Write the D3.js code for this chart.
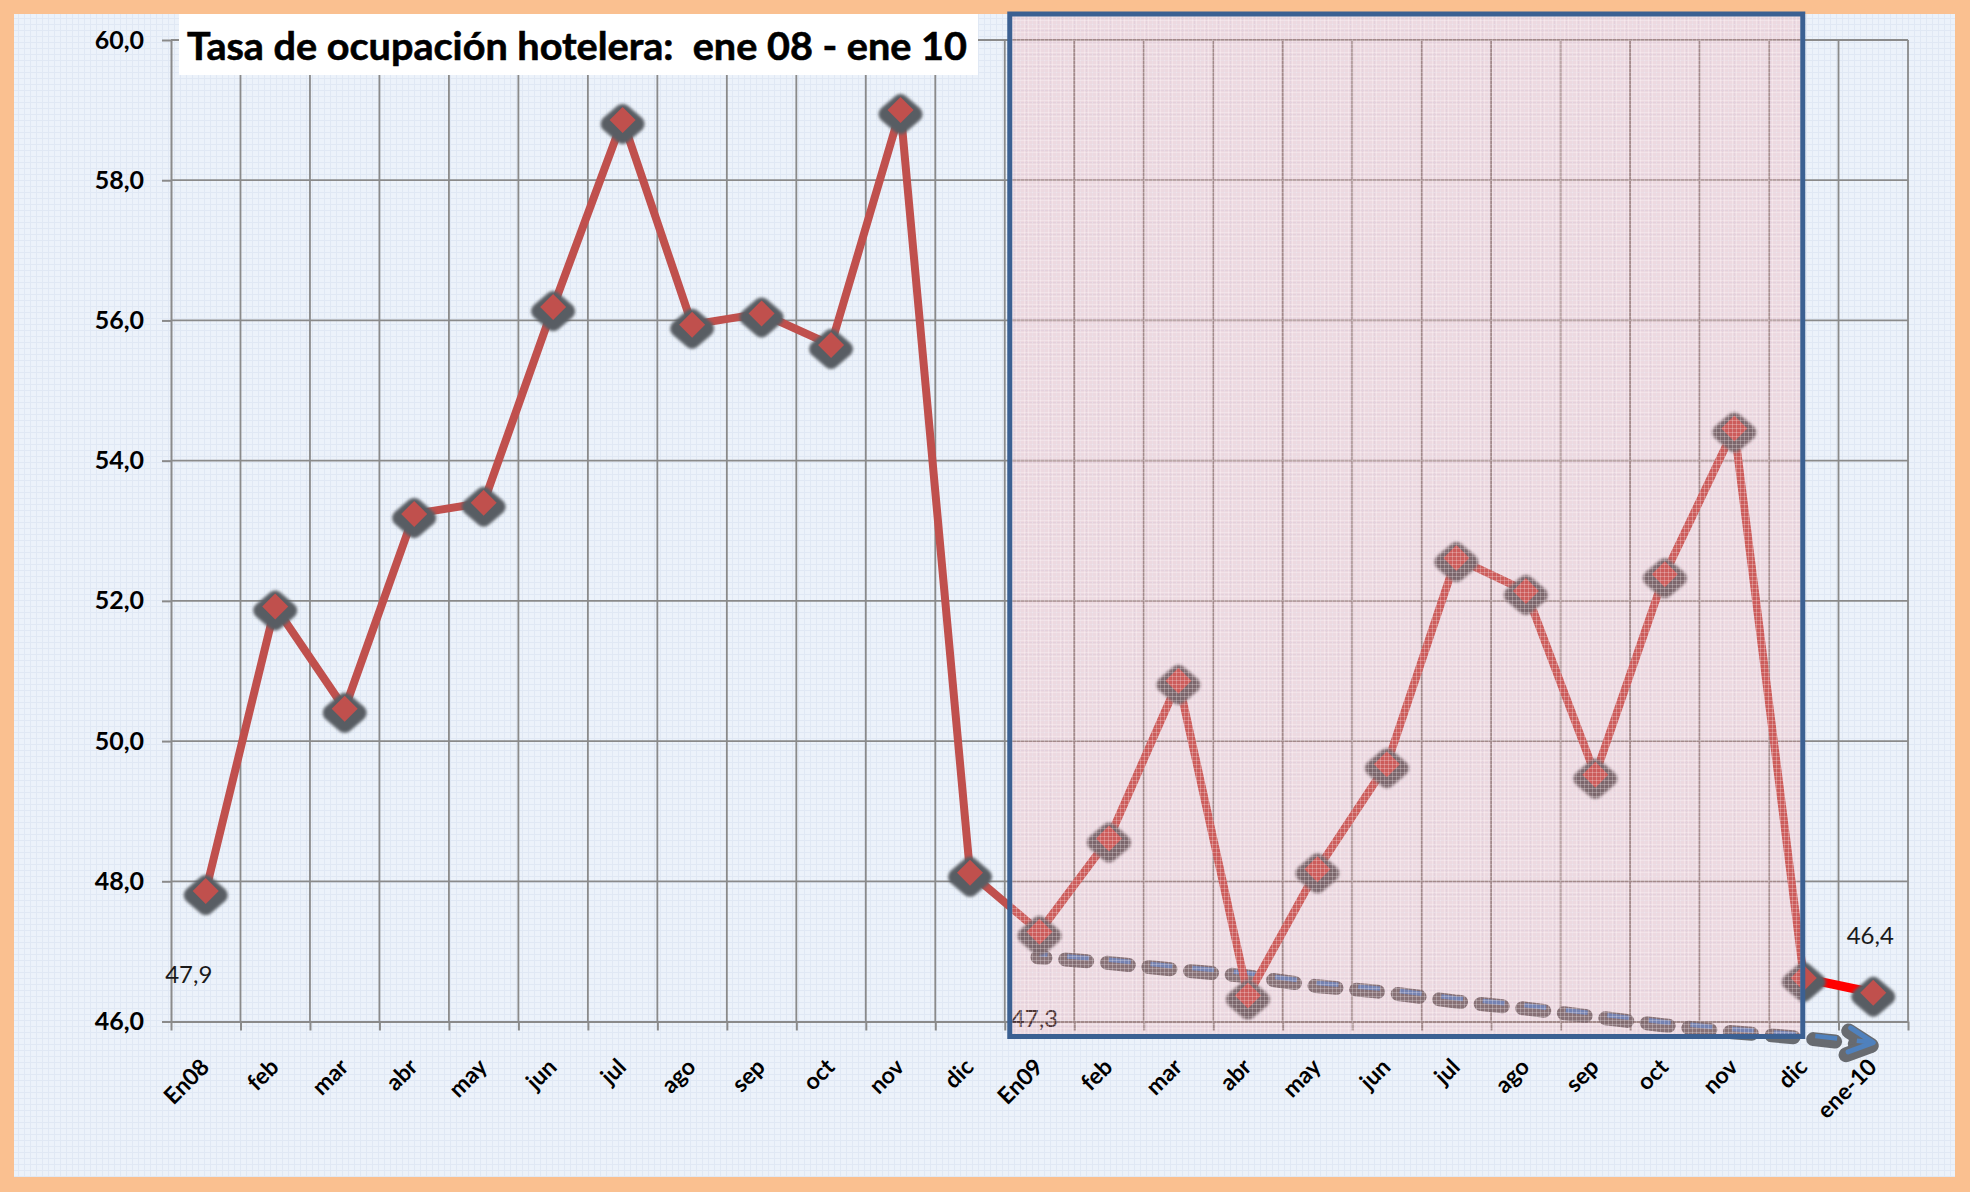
<!DOCTYPE html>
<html>
<head>
<meta charset="utf-8">
<script src="https://cdn.jsdelivr.net/npm/d3@7"></script>
<style>
  html, body { margin: 0; padding: 0; background: #fac090; }
  svg { display: block; }
</style>
</head>
<body>
<svg id="chart" width="1970" height="1192"></svg>
<script>
// categories (x axis)
const months = ["En08", "feb", "mar", "abr", "may", "jun", "jul", "ago", "sep", "oct", "nov", "dic",
  "En09", "feb", "mar", "abr", "may", "jun", "jul", "ago", "sep", "oct", "nov", "dic", "ene-10"];

// tasa de ocupación hotelera (%)
const occupancy = [47.86, 51.92, 50.46, 53.24, 53.40, 56.19, 58.86, 55.94, 56.10, 55.65, 59.00, 48.12,
  47.28, 48.61, 50.86, 46.37, 48.17, 49.67, 52.61, 52.14, 49.52, 52.38, 54.46, 46.62, 46.41];

// dashed trend arrow, from En09 to ene-10
const trendStart = 12;
const trend = [46.96, 46.88, 46.78, 46.69, 46.55, 46.46, 46.33, 46.23, 46.11, 45.99, 45.89, 45.81, 45.70];

const yTicks = [46, 48, 50, 52, 54, 56, 58, 60];
const labelIdx = [0, 12, 24];
const title = "Tasa de ocupación hotelera:  ene 08 - ene 10";

const es = d3.formatLocale({ decimal: ",", thousands: ".", grouping: [3], currency: ["", " €"] });
const fmt = es.format(".1f");

const width = 1970, height = 1192;
const panel = { x: 14, y: 14, w: 1941, h: 1163 };
const n = months.length;
const font = "Lato, 'Open Sans', sans-serif";

const x = d3.scaleLinear().domain([0, n]).range([171, 1908]);
const xc = (i) => x(i + 0.5);
const y = d3.scaleLinear().domain([46, 60]).range([1021.5, 40]);

const svg = d3.select("#chart");
const defs = svg.append("defs");

// background texture
const bgPat = defs.append("pattern").attr("id", "bg-pat")
  .attr("patternUnits", "userSpaceOnUse").attr("width", 6).attr("height", 6);
bgPat.append("rect").attr("width", 6).attr("height", 6).attr("fill", "#ecf2fa");
bgPat.append("path").attr("d", "M0 0.5H6M0.5 0V6").attr("stroke", "#e0e8f4").attr("stroke-width", 1);

// pink highlight texture
const pinkPat = defs.append("pattern").attr("id", "pink-pat")
  .attr("patternUnits", "userSpaceOnUse").attr("width", 4).attr("height", 4);
pinkPat.append("rect").attr("width", 4).attr("height", 4).attr("fill", "rgba(240,135,140,0.23)");
pinkPat.append("path").attr("d", "M0 0.5H4M0.5 0V4").attr("stroke", "rgba(255,255,255,0.25)").attr("stroke-width", 1);

const blur = defs.append("filter").attr("id", "soft")
  .attr("x", "-50%").attr("y", "-50%").attr("width", "200%").attr("height", "200%");
blur.append("feGaussianBlur").attr("stdDeviation", 1.6);
const blurLight = defs.append("filter").attr("id", "soft-light")
  .attr("x", "-10%").attr("y", "-50%").attr("width", "120%").attr("height", "200%");
blurLight.append("feGaussianBlur").attr("stdDeviation", 0.7);

// arrow heads for the trend
defs.append("marker").attr("id", "arrow-blue")
  .attr("markerUnits", "userSpaceOnUse").attr("orient", "auto")
  .attr("viewBox", "-30 -20 40 40").attr("markerWidth", 40).attr("markerHeight", 40)
  .attr("refX", 0).attr("refY", 0)
  .append("path").attr("d", "M-24,-12L0,0L-24,12")
  .attr("fill", "none").attr("stroke", "#4f81bd").attr("stroke-width", 5)
  .attr("stroke-linecap", "round").attr("stroke-linejoin", "round");
defs.append("marker").attr("id", "arrow-shadow")
  .attr("markerUnits", "userSpaceOnUse").attr("orient", "auto")
  .attr("viewBox", "-40 -30 60 60").attr("markerWidth", 60).attr("markerHeight", 60)
  .attr("refX", 0).attr("refY", 0)
  .append("path").attr("d", "M-24,-12L0,0L-24,12")
  .attr("fill", "none").attr("stroke", "#5a5d62").attr("stroke-width", 15)
  .attr("stroke-linecap", "round").attr("stroke-linejoin", "round");

// frame
svg.append("rect").attr("width", width).attr("height", height).attr("fill", "#fac090");
svg.append("rect")
  .attr("x", panel.x).attr("y", panel.y).attr("width", panel.w).attr("height", panel.h)
  .attr("fill", "url(#bg-pat)");

// grid
const grid = svg.append("g").attr("stroke", "#8a8a8a").attr("stroke-width", 1.8);
grid.selectAll(".hgrid").data(yTicks.slice(1)).enter().append("line")
  .attr("x1", x(0)).attr("x2", x(n)).attr("y1", (d) => y(d)).attr("y2", (d) => y(d));
grid.selectAll(".vgrid").data(d3.range(1, n + 1)).enter().append("line")
  .attr("x1", (d) => x(d)).attr("x2", (d) => x(d)).attr("y1", y(60)).attr("y2", y(46));

// axes
const xAxis = svg.append("g")
  .attr("transform", `translate(0,${y(46)})`)
  .call(d3.axisBottom(x).tickValues(d3.range(n + 1)).tickSize(9).tickSizeOuter(0).tickFormat(""));
const yAxis = svg.append("g")
  .attr("transform", `translate(${x(0)},0)`)
  .call(d3.axisLeft(y).tickValues(yTicks).tickSize(9).tickSizeOuter(0).tickPadding(18).tickFormat(fmt));
[xAxis, yAxis].forEach((g) => {
  g.selectAll("path, line").attr("stroke", "#8a8a8a").attr("stroke-width", 2);
});
yAxis.selectAll("text")
  .attr("font-family", font)
  .attr("font-weight", "bold").attr("font-size", 25).attr("fill", "#000");

// month labels, rotated
svg.append("g").selectAll("text").data(months).enter().append("text")
  .attr("transform", (d, i) => `translate(${xc(i) + 5},${y(46) + 47}) rotate(-45)`)
  .attr("text-anchor", "end")
  .attr("font-family", font)
  .attr("font-weight", "bold").attr("font-size", 23).attr("fill", "#000")
  .text((d) => d);

// title box
svg.append("rect").attr("x", 179).attr("y", 14).attr("width", 799).attr("height", 61).attr("fill", "#fff");
svg.append("text")
  .attr("x", 187).attr("y", 60)
  .attr("font-family", font)
  .attr("font-weight", "bold").attr("font-size", 39).attr("fill", "#000")
  .attr("stroke", "#000").attr("stroke-width", 0.6)
  .attr("textLength", 780).attr("lengthAdjust", "spacingAndGlyphs")
  .style("white-space", "pre")
  .text(title);

// data labels
const labelOffset = [[-17, 92], [-5, 95], [-3, -49]];
svg.append("g").selectAll("text").data(labelIdx).enter().append("text")
  .attr("x", (d, k) => xc(d) + labelOffset[k][0])
  .attr("y", (d, k) => y(occupancy[d]) + labelOffset[k][1])
  .attr("text-anchor", "middle")
  .attr("font-family", font)
  .attr("font-size", 24).attr("fill", "#1a1a1a")
  .text((d) => fmt(occupancy[d]));

// trend arrow (shadow + blue dashes)
const trendLine = d3.line().x((d, k) => xc(trendStart + k)).y((d) => y(d));
svg.append("path").datum(trend)
  .attr("d", trendLine)
  .attr("transform", "translate(-2,3)")
  .attr("fill", "none").attr("stroke", "#5a5d62").attr("stroke-width", 14)
  .attr("stroke-linecap", "round").attr("stroke-dasharray", "22 19.8").attr("stroke-dashoffset", 14)
  .attr("marker-end", "url(#arrow-shadow)")
  .attr("filter", "url(#soft-light)").attr("opacity", 0.9);
svg.append("path").datum(trend)
  .attr("d", trendLine)
  .attr("fill", "none").attr("stroke", "#4f81bd").attr("stroke-width", 4.5)
  .attr("stroke-dasharray", "22 19.8").attr("stroke-dashoffset", 14)
  .attr("marker-end", "url(#arrow-blue)");

// main series
const line = d3.line().x((d, i) => xc(i)).y((d) => y(d));
svg.append("path").datum(occupancy.slice(0, n - 1))
  .attr("d", line)
  .attr("fill", "none").attr("stroke", "#c0504d").attr("stroke-width", 8)
  .attr("stroke-linejoin", "round").attr("stroke-linecap", "round");
svg.append("path").datum(occupancy.slice(n - 2))
  .attr("d", d3.line().x((d, k) => xc(n - 2 + k)).y((d) => y(d)))
  .attr("fill", "none").attr("stroke", "#ff0000").attr("stroke-width", 9)
  .attr("stroke-linecap", "round");

// diamond markers with soft shadow
const markers = svg.append("g").selectAll("g").data(occupancy).enter().append("g")
  .attr("transform", (d, i) => `translate(${xc(i)},${y(d)})`);
markers.append("path")
  .attr("d", "M0,-12L14,0L0,12L-14,0Z")
  .attr("transform", "translate(0,4)")
  .attr("fill", "#595d63").attr("stroke", "#595d63").attr("stroke-width", 16)
  .attr("stroke-linejoin", "round").attr("filter", "url(#soft)");
markers.append("path")
  .attr("d", "M0,-13L13,0L0,13L-13,0Z")
  .attr("fill", "#c0504d");

// highlighted year 2009
svg.append("rect")
  .attr("x", x(trendStart) + 5).attr("y", panel.y)
  .attr("width", xc(n - 2) - 1 - (x(trendStart) + 5))
  .attr("height", y(46) + 15 - panel.y)
  .attr("fill", "url(#pink-pat)")
  .attr("stroke", "#3b6092").attr("stroke-width", 5);
</script>
</body>
</html>
